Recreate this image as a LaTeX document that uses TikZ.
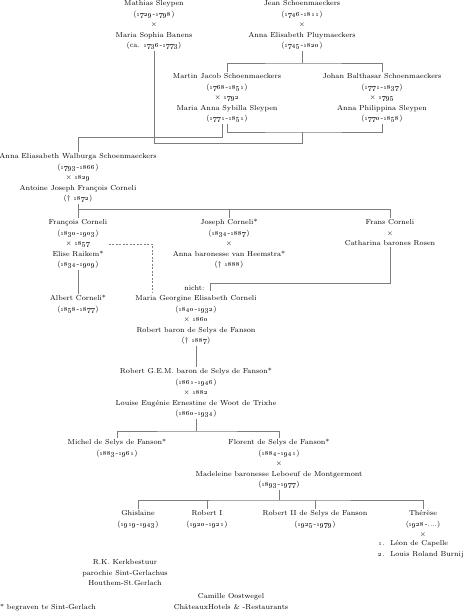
\documentclass[tikz,border=0pt]{standalone}
\usetikzlibrary{calc,positioning}
\definecolor{KinGray}{RGB}{125,125,125}
\newcommand{\yr}[1]{\oldstylenums{#1}}
\tikzset{
  person/.style={anchor=north,align=center,inner sep=0pt,outer sep=1.5pt,
    font=\fontsize{7.2}{10.5}\selectfont},
  kin/.style={KinGray,line width=0.5pt},
  notkin/.style={kin,dash pattern=on 2pt off 1.5pt},
}
\begin{document}
\begin{tikzpicture}[x=1pt,y=-1pt]
  \useasboundingbox (0,0) rectangle (470,614);
  % first generation
  \node[person] (mathias) at (154,-1) {Mathias Sleypen\\(\yr{1729}-\yr{1798})\\$\times$\\Maria Sophia Banens\\(ca. \yr{1736}-\yr{1773})};
  \node[person] (jean) at (302,-1) {Jean Schoenmaeckers\\(\yr{1746}-\yr{1811})\\$\times$\\Anna Elisabeth Pluymaeckers\\(\yr{1745}-\yr{1820})};
  \node[person] (martin) at (227,72) {Martin Jacob Schoenmaeckers\\(\yr{1768}-\yr{1851})\\$\times$ \yr{1792}\\Maria Anna Sybilla Sleypen\\(\yr{1771}-\yr{1851})};
  \node[person] (johan) at (382,72) {Johan Balthasar Schoenmaeckers\\(\yr{1771}-\yr{1837})\\$\times$ \yr{1795}\\Anna Philippina Sleypen\\(\yr{1770}-\yr{1858})};
  \node[person] (anna) at (78,152) {Anna Eliasabeth Walburga Schoenmaeckers\\(\yr{1793}-\yr{1866})\\$\times$ \yr{1829}\\Antoine Joseph François Corneli\\(† \yr{1872})};
  % Corneli
  \node[person] (francois) at (78,218) {François Corneli\\(\yr{1830}-\yr{1903})\\$\times$ \yr{1857}\\Elise Raikem*\\(\yr{1834}-\yr{1909})};
  \node[person] (joseph) at (229,218) {Joseph Corneli*\\(\yr{1834}-\yr{1887})\\$\times$\\Anna baronesse van Heemstra*\\(† \yr{1888})};
  \node[person] (frans) at (390,218) {Frans Corneli\\$\times$\\Catharina barones Rosen};
  \node[person] (albert) at (78,294) {Albert Corneli*\\(\yr{1858}-\yr{1877})};
  \node[person] (maria) at (196,294) {Maria Georgine Elisabeth Corneli\\(\yr{1840}-\yr{1932})\\$\times$ \yr{1860}\\Robert baron de Selys de Fanson\\(† \yr{1887})};
  \node[person,anchor=east] (nicht) at (206,288) {nicht:};
  % de Selys de Fanson
  \node[person] (robert) at (196,367) {Robert G.E.M. baron de Selys de Fanson*\\(\yr{1861}-\yr{1946})\\$\times$ \yr{1882}\\Louise Eugénie Ernestine de Woot de Trixhe\\(\yr{1860}-\yr{1934})};
  \node[person] (michel) at (117,438) {Michel de Selys de Fanson*\\(\yr{1883}-\yr{1961})};
  \node[person] (florent) at (279,438) {Florent de Selys de Fanson*\\(\yr{1884}-\yr{1941})\\$\times$\\Madeleine baronesse Leboeuf de Montgermont\\(\yr{1893}-\yr{1977})};
  \node[person] (ghislaine) at (138,509) {Ghislaine\\(\yr{1919}-\yr{1943})};
  \node[person] (roberti) at (207,509) {Robert I\\(\yr{1920}-\yr{1921})};
  \node[person] (robertii) at (315,509) {Robert II de Selys de Fanson\\(\yr{1925}-\yr{1979})};
  \node[person] (therese) at (423,509) {Thérèse\\(\yr{1928}-....)\\$\times$};
  \node[person,align=left,below=0.5pt of therese,xshift=-2pt] (spouses) {\yr{1}.\ \ Léon de Capelle\\\yr{2}.\ \ Louis Roland Burnij};
  % owners and note
  \node[person] (kerk) at (125,558) {R.K. Kerkbestuur\\parochie Sint-Gerlachus\\Houthem-St.Gerlach};
  \node[person] (camille) at (231,592) {Camille Oostwegel\\ChâteauxHotels \& -Restaurants};
  \node[person,anchor=north west] (note) at (-1.5,603) {* begraven te Sint-Gerlach};

  % connectors
  \coordinate (jbar) at (302,63);
  \coordinate (sbar) at (302,132);
  \coordinate (mbar) at (302,143);
  \coordinate (abar) at (78,137);
  \coordinate (cbar) at (78,209);
  \coordinate (nbar) at (210,283);
  \coordinate (rbar) at (196,431);
  \coordinate (fbar) at (279,500);
  \draw[kin] (jean.south) -- (jbar);
  \draw[kin] (martin.north) |- (jbar) -| (johan.north);
  \draw[kin] (martin.south) |- (sbar) -| (johan.south);
  \draw[kin] (mathias.south) |- (mbar) -- (sbar);
  \draw[kin] ([xshift=-5pt]martin.south) |- (abar) -- (anna.north);
  \draw[kin] (anna.south) -- (francois.north);
  \draw[kin] (cbar) -| (joseph.north);
  \draw[kin] (cbar) -| (frans.north);
  \draw[kin] (frans.south) |- (nbar) -- ([xshift=14pt,yshift=3pt]maria.north);
  \draw[notkin] (francois.east) -| ([xshift=-44pt,yshift=2pt]maria.north);
  \draw[kin] (francois.south) -- (albert.north);
  \draw[kin] (maria.south) -- (robert.north);
  \draw[kin] (robert.south) -- (rbar);
  \draw[kin] (michel.north) |- (rbar) -| (florent.north);
  \draw[kin] (florent.south) -- (fbar);
  \draw[kin] (ghislaine.north) |- (fbar) -| (therese.north);
  \draw[kin] (roberti.north) -- (roberti.north |- fbar);
  \draw[kin] (robertii.north) -- (robertii.north |- fbar);
\end{tikzpicture}
\end{document}
